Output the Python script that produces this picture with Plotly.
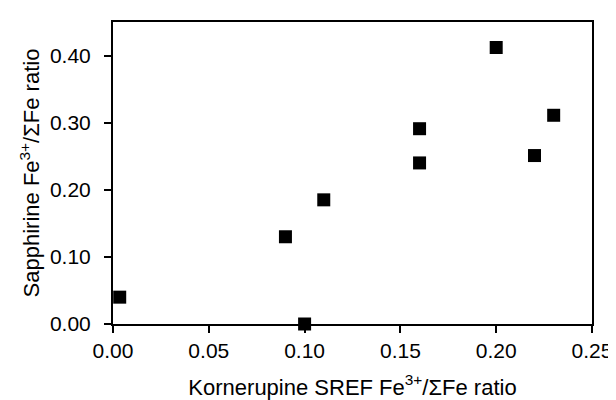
import plotly.graph_objects as go

# Kornerupine SREF Fe3+/sum Fe vs sapphirine Fe3+/sum Fe
kornerupine_ratio = [0.0035, 0.09, 0.10, 0.11, 0.16, 0.16, 0.20, 0.22, 0.23]
sapphirine_ratio = [0.040, 0.130, 0.000, 0.185, 0.291, 0.240, 0.412, 0.251, 0.311]

x_ticks = [0.00, 0.05, 0.10, 0.15, 0.20, 0.25]
y_ticks = [0.00, 0.10, 0.20, 0.30, 0.40]

FONT = 'Arial, Liberation Sans, sans-serif'

fig = go.Figure()
fig.add_trace(go.Scatter(x=kornerupine_ratio,
                         y=sapphirine_ratio,
                         mode='markers',
                         marker=dict(symbol='square', size=13, color='black',
                                     line=dict(width=0)),
                         cliponaxis=False,
                         showlegend=False))

axis_style = dict(showline=True, linecolor='black', linewidth=2, mirror=True,
                  ticks='outside', ticklen=7, tickwidth=1.5, tickcolor='black',
                  showgrid=False, zeroline=False, tickformat='.2f',
                  tickfont=dict(family=FONT, size=21, color='black'))

fig.update_xaxes(range=[0, 0.25], tickvals=x_ticks,
                 title=dict(text='Kornerupine SREF Fe<sup>3+</sup>/ΣFe ratio',
                            font=dict(family=FONT, size=22, color='black'),
                            standoff=18),
                 **axis_style)
fig.update_yaxes(range=[0, 0.45], tickvals=y_ticks, ticklabelstandoff=9,
                 title=dict(text='Sapphirine Fe<sup>3+</sup>/ΣFe ratio',
                            font=dict(family=FONT, size=22, color='black'),
                            standoff=4),
                 **axis_style)

fig.update_layout(width=616, height=400,
                  margin=dict(l=105, r=23, t=13, b=84),
                  plot_bgcolor='white', paper_bgcolor='white')

fig.write_html('out.html')
